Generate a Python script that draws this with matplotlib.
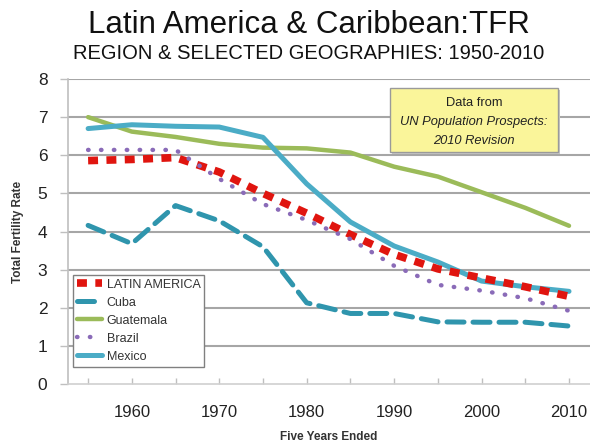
import matplotlib
matplotlib.use("Agg")
import matplotlib.pyplot as plt
from matplotlib.patches import Rectangle

years = [1955, 1960, 1965, 1970, 1975, 1980, 1985, 1990, 1995, 2000, 2005, 2010]
latin_america = [5.86, 5.89, 5.94, 5.56, 5.00, 4.48, 3.92, 3.40, 3.02, 2.78, 2.55, 2.30]
cuba = [4.16, 3.68, 4.68, 4.28, 3.60, 2.13, 1.85, 1.85, 1.63, 1.62, 1.62, 1.52]
guatemala = [7.00, 6.62, 6.48, 6.30, 6.20, 6.18, 6.07, 5.70, 5.44, 5.03, 4.62, 4.15]
brazil = [6.14, 6.14, 6.14, 5.38, 4.72, 4.30, 3.80, 3.10, 2.60, 2.45, 2.25, 1.92]
mexico = [6.70, 6.80, 6.76, 6.74, 6.47, 5.25, 4.25, 3.62, 3.20, 2.70, 2.55, 2.43]
tick_years = [1960, 1970, 1980, 1990, 2000, 2010]
y_ticks = [0, 1, 2, 3, 4, 5, 6, 7, 8]

plt.rcParams['font.family'] = ['Liberation Sans', 'DejaVu Sans']

W, H = 590, 446
fig = plt.figure(figsize=(W / 100, H / 100), dpi=100)
ax_l, ax_r, ax_t, ax_b = 68, 590, 79, 384
ax = fig.add_axes([ax_l / W, 1 - ax_b / H, (ax_r - ax_l) / W, (ax_b - ax_t) / H])

ax.set_xlim(1952.7, 2012.4)
ax.set_ylim(0, 8)
for y in y_ticks[1:]:
    ax.axhline(y, color='#a6a6a6', lw=1.5, zorder=1)

ax.plot(years, guatemala, color='#9BBB59', lw=3.2, label='Guatemala', zorder=3, solid_capstyle='round')
ax.plot(years, mexico, color='#4BACC6', lw=3.6, label='Mexico', zorder=4, solid_capstyle='round')
ax.plot(years, latin_america, color='#E0150F', lw=5.5, linestyle=(0, (1.3, 1.1)), label='LATIN AMERICA', zorder=5)
ax.plot(years, cuba, color='#2F95AD', lw=3.6, linestyle=(0, (3.4, 1.8)), label='Cuba', zorder=3, dash_capstyle='round')
ax.plot(years, brazil, color='#8A6BB8', lw=3.2, linestyle=(0, (0.1, 2.8)), dash_capstyle='round', label='Brazil', zorder=6)

ax.set_yticks(y_ticks)
ax.set_yticklabels([str(v) for v in y_ticks], fontsize=12.5, color='#222222')
ax.set_xticks(years)
ax.set_xticklabels([str(y) if y in tick_years else '' for y in years], fontsize=12, color='#222222')
ax.tick_params(axis='y', length=5.8, width=1, color='#bfbfbf', pad=9)
ax.tick_params(axis='x', direction='in', length=4, width=1, color='#bfbfbf', pad=15)
for s in ['top', 'right']:
    ax.spines[s].set_visible(False)
ax.spines['left'].set_color('#bfbfbf')
ax.spines['bottom'].set_color('#d0d0d0')
ax.spines['left'].set_linewidth(1.2)
ax.spines['bottom'].set_linewidth(1.2)

ax.set_ylabel('Total Fertility Rate', fontsize=8.5, fontweight='bold', color='#333333', labelpad=10)
ax.set_xlabel('Five Years Ended', fontsize=8.5, fontweight='bold', color='#333333', labelpad=8)

handles, labels = ax.get_legend_handles_labels()
order = ['LATIN AMERICA', 'Cuba', 'Guatemala', 'Brazil', 'Mexico']
hmap = dict(zip(labels, handles))
leg = ax.legend([hmap[k] for k in order], order, loc='upper left',
                bbox_to_anchor=((73 - ax_l) / (ax_r - ax_l), 1 - (275 - ax_t) / (ax_b - ax_t)),
                fontsize=9, frameon=True, fancybox=False, edgecolor='#808080',
                handlelength=2.0, handletextpad=0.4, labelspacing=0.48,
                borderpad=0.3, borderaxespad=0, framealpha=1)
leg.get_frame().set_linewidth(1.0)
for t in leg.get_texts():
    t.set_color('#333333')

# Note box
bx0, by0, bx1, by1 = 390 / W, 1 - 152 / H, 558 / W, 1 - 88 / H
shadow = Rectangle((bx0 + 0.004, by0 - 0.005), bx1 - bx0, by1 - by0, transform=fig.transFigure,
                   facecolor='#c8c8c8', edgecolor='none', zorder=8)
fig.patches.append(shadow)
box = Rectangle((bx0, by0), bx1 - bx0, by1 - by0, transform=fig.transFigure,
                facecolor='#FAF59A', edgecolor='#9a9a9a', lw=1.0, zorder=9)
fig.patches.append(box)
cx = (bx0 + bx1) / 2
fig.text(cx, 1 - 103 / H, 'Data from', ha='center', va='center', fontsize=9.3, color='#222222', zorder=10)
fig.text(cx, 1 - 122 / H, 'UN Population Prospects:', ha='center', va='center', fontsize=9.3,
         style='italic', color='#222222', zorder=10)
fig.text(cx, 1 - 141 / H, '2010 Revision', ha='center', va='center', fontsize=9.3,
         style='italic', color='#222222', zorder=10)

fig.text(308.5 / W, 1 - 33 / H, 'Latin America & Caribbean:TFR', ha='center', va='baseline',
         fontsize=22.5, color='#111111')
fig.text(308.5 / W, 1 - 59 / H, 'REGION & SELECTED GEOGRAPHIES: 1950-2010', ha='center', va='baseline',
         fontsize=14.5, color='#111111')

fig.savefig('out.png', dpi=100)
